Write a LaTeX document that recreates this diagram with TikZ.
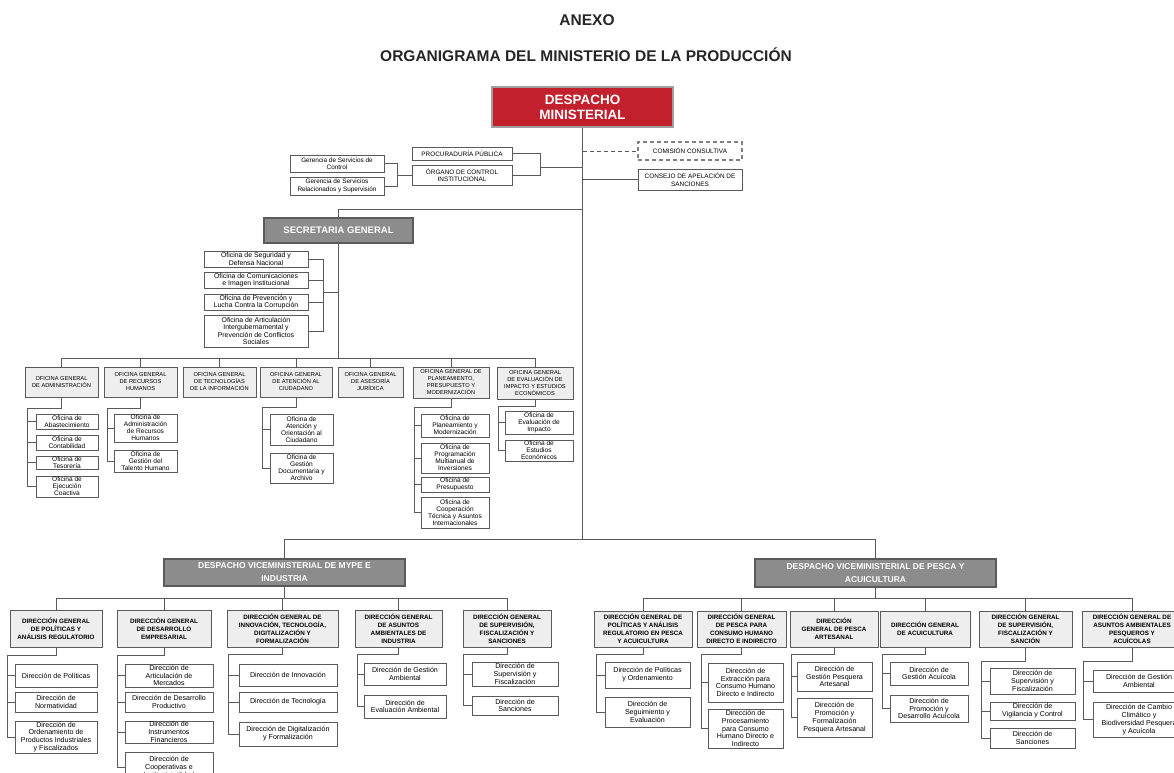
\documentclass[tikz,border=0pt]{standalone}
\usepackage{fontspec}
\setmainfont{Liberation Sans}
\definecolor{lnc}{HTML}{5A5A5A}
\definecolor{dmred}{HTML}{C1202C}
\definecolor{hdgray}{HTML}{8C8C8C}
\definecolor{oggray}{HTML}{EEEEEE}
\tikzset{
  base/.style={inner sep=0pt, align=center, draw=lnc, line width=1pt},
  titletext/.style={inner sep=0pt, font=\fontsize{15.5}{18}\selectfont\bfseries, text=black!85},
  dmbox/.style={base, fill=dmred, draw=gray!75, line width=1.6pt, text=white, font=\fontsize{13.5}{15}\selectfont\bfseries},
  sgbox/.style={base, fill=hdgray, draw=lnc, line width=1.3pt, text=white, font=\fontsize{9.5}{11}\selectfont\bfseries},
  vmbox/.style={base, fill=hdgray, draw=lnc, line width=1.3pt, text=white, font=\fontsize{8.5}{13}\selectfont\bfseries},
  topbox/.style={base, fill=white, font=\fontsize{6.4}{7.5}\selectfont},
  dashbox/.style={draw=gray, dash pattern=on 4pt off 3pt, line width=1.2pt},
  sobox/.style={base, fill=white, font=\fontsize{6.9}{7.5}\selectfont},
  ogbox/.style={base, fill=oggray, font=\fontsize{5.7}{7}\selectfont},
  ocbox/.style={base, fill=white, font=\fontsize{6.6}{7}\selectfont},
  dgbox/.style={base, fill=oggray, font=\fontsize{6.3}{8}\selectfont\bfseries},
  dcbox/.style={base, fill=white, font=\fontsize{7.1}{7.8}\selectfont},
  conn/.style={draw=lnc, line width=1pt},
}
\newcommand\obox[7]{%
  \pgfmathsetmacro\obw{#5-#3}%
  \pgfmathsetmacro\obh{#6-#4}%
  \node[#1, minimum width=\obw pt, minimum height=\obh pt] (#2) at ({(#3+#5)/2},{(#4+#6)/2}) {#7};}
\newcommand\obrk[4]{%
  \coordinate (bk) at (#2,#3);
  \draw[conn] (#1.south) |- (bk);
  \foreach \ch in {#4}{\draw[conn] (bk) |- (\ch.west);}}
\newcommand\obus[3]{%
  \coordinate (bb) at (0,#2);
  \draw[conn] (#1.south) -- (#1.south |- bb);
  \foreach \ch in {#3}{\draw[conn] (#1.south |- bb) -| (\ch.north);}}
\begin{document}
\begin{tikzpicture}[x=1pt,y=-1pt]
\useasboundingbox (0,0) rectangle (1174,772);
\fill[white] (0,0) rectangle (1174,772);

\node[titletext] (anexo) at (587,20) {ANEXO};
\node[titletext] (orgt) at (586,55) {ORGANIGRAMA DEL MINISTERIO DE LA PRODUCCIÓN};

% ---------- top level ----------
\obox{dmbox}{DM}{492}{87}{673}{127}{DESPACHO\\MINISTERIAL}
\obox{topbox}{PP}{412}{147}{512}{160}{PROCURADURÍA PÚBLICA}
\obox{topbox}{OCI}{412}{165}{512}{185}{ÓRGANO DE CONTROL\\INSTITUCIONAL}
\obox{topbox}{GSC}{290}{155}{384}{172}{Gerencia de Servicios de\\Control}
\obox{topbox}{GSR}{290}{177}{384}{195}{Gerencia de Servicios\\Relacionados y Supervisión}
\obox{topbox,dashbox}{CC}{638}{142}{742}{160}{COMISIÓN CONSULTIVA}
\obox{topbox}{CAS}{638}{169}{742}{190}{CONSEJO DE APELACIÓN DE\\SANCIONES}

\obox{sgbox}{SG}{264}{218}{413}{243}{SECRETARIA GENERAL}
\obox{sobox}{SO1}{204}{251}{308}{267}{Oficina de Seguridad y\\Defensa Nacional}
\obox{sobox}{SO2}{204}{272}{308}{288}{Oficina de Comunicaciones\\e Imagen Institucional}
\obox{sobox}{SO3}{204}{294}{308}{310}{Oficina de Prevención y\\Lucha Contra la Corrupción}
\obox{sobox}{SO4}{204}{315}{308}{347}{Oficina de Articulación\\Intergubernamental y\\Prevención de Conflictos\\Sociales}

\obox{vmbox}{VMM}{164}{559}{405}{586}{DESPACHO VICEMINISTERIAL DE MYPE E\\INDUSTRIA}
\obox{vmbox}{VMP}{755}{559}{996}{587}{DESPACHO VICEMINISTERIAL DE PESCA Y\\ACUICULTURA}

% connectors top
\obus{DM}{539}{VMM,VMP}
\coordinate (poj) at (540,167);
\draw[conn] (PP.east) -| (poj);
\draw[conn] (OCI.east) -| (poj);
\draw[conn] (poj) -- (DM.south |- poj);
\coordinate (gj) at (397,175);
\draw[conn] (GSC.east) -| (gj);
\draw[conn] (GSR.east) -| (gj);
\draw[conn] (gj) -- (gj -| OCI.west);
\draw[conn, dash pattern=on 4pt off 3pt] (DM.south |- CC.west) -- (CC.west);
\draw[conn] (DM.south |- CAS.west) -- (CAS.west);
\coordinate (sgj) at (0,209);
\draw[conn] (DM.south |- sgj) -| (SG.north);
\coordinate (soj) at (323,292);
\draw[conn] (soj) -- (SG.south |- soj);
\foreach \ch in {SO1,SO2,SO3,SO4}{\draw[conn] (\ch.east) -| (soj);}

% ---------- oficinas generales ----------
\obox{ogbox}{OGA}{25}{367}{98}{397}{OFICINA GENERAL\\DE ADMINISTRACIÓN}
\obox{ogbox}{OGR}{104}{367}{177}{397}{OFICINA GENERAL\\DE RECURSOS\\HUMANOS}
\obox{ogbox}{OGT}{183}{367}{256}{397}{OFICINA GENERAL\\DE TECNOLOGÍAS\\DE LA INFORMACIÓN}
\obox{ogbox}{OGC}{260}{367}{332}{397}{OFICINA GENERAL\\DE ATENCIÓN AL\\CIUDADANO}
\obox{ogbox}{OGJ}{338}{367}{403}{397}{OFICINA GENERAL\\DE ASESORÍA\\JURÍDICA}
\obox{ogbox}{OGP}{413}{367}{489}{398}{OFICINA GENERAL DE\\PLANEAMIENTO,\\PRESUPUESTO Y\\MODERNIZACIÓN}
\obox{ogbox}{OGE}{497}{367}{573}{399}{OFICINA GENERAL\\DE EVALUACIÓN DE\\IMPACTO Y ESTUDIOS\\ECONÓMICOS}
\obus{SG}{358}{OGA,OGR,OGT,OGC,OGJ,OGP,OGE}

\obox{ocbox}{A1}{36}{414}{98}{429}{Oficina de\\Abastecimiento}
\obox{ocbox}{A2}{36}{435}{98}{450}{Oficina de\\Contabilidad}
\obox{ocbox}{A3}{36}{456}{98}{469}{Oficina de\\Tesorería}
\obox{ocbox}{A4}{36}{476}{98}{497}{Oficina de\\Ejecución\\Coactiva}
\obrk{OGA}{27}{408}{A1,A2,A3,A4}

\obox{ocbox}{R1}{114}{414}{177}{442}{Oficina de\\Administración\\de Recursos\\Humanos}
\obox{ocbox}{R2}{114}{450}{177}{472}{Oficina de\\Gestión del\\Talento Humano}
\obrk{OGR}{107}{408}{R1,R2}

\obox{ocbox}{C1}{270}{414}{333}{445}{Oficina de\\Atención y\\Orientación al\\Ciudadano}
\obox{ocbox}{C2}{270}{453}{333}{483}{Oficina de\\Gestión\\Documentaria y\\Archivo}
\obrk{OGC}{262}{407}{C1,C2}

\obox{ocbox}{Q1}{421}{414}{489}{437}{Oficina de\\Planeamiento y\\Modernización}
\obox{ocbox}{Q2}{421}{443}{489}{473}{Oficina de\\Programación\\Multianual de\\Inversiones}
\obox{ocbox}{Q3}{421}{477}{489}{492}{Oficina de\\Presupuesto}
\obox{ocbox}{Q4}{421}{497}{489}{528}{Oficina de\\Cooperación\\Técnica y Asuntos\\Internacionales}
\obrk{OGP}{414}{407}{Q1,Q2,Q3,Q4}

\obox{ocbox}{E1}{505}{411}{573}{434}{Oficina de\\Evaluación de\\Impacto}
\obox{ocbox}{E2}{505}{440}{573}{461}{Oficina de\\Estudios\\Económicos}
\obrk{OGE}{498}{406}{E1,E2}

% MYPE
\obox{dgbox}{D1}{10}{610}{102}{647}{DIRECCIÓN GENERAL\\DE POLÍTICAS Y\\ANÁLISIS REGULATORIO}
\obox{dgbox}{D2}{117}{610}{211}{647}{DIRECCIÓN GENERAL\\DE DESARROLLO\\EMPRESARIAL}
\obox{dgbox}{D3}{227}{610}{338}{647}{DIRECCIÓN GENERAL DE\\INNOVACIÓN, TECNOLOGÍA,\\DIGITALIZACIÓN Y\\FORMALIZACIÓN}
\obox{dgbox}{D4}{355}{610}{442}{647}{DIRECCIÓN GENERAL\\DE ASUNTOS\\AMBIENTALES DE\\INDUSTRIA}
\obox{dgbox}{D5}{463}{610}{551}{647}{DIRECCIÓN GENERAL\\DE SUPERVISIÓN,\\FISCALIZACIÓN Y\\SANCIONES}
\obus{VMM}{598}{D1,D2,D3,D4,D5}

\obox{dcbox}{D1a}{15}{664}{97}{687}{Dirección de Políticas}
\obox{dcbox}{D1b}{15}{692}{97}{712}{Dirección de\\Normatividad}
\obox{dcbox}{D1c}{15}{721}{97}{753}{Dirección de\\Ordenamiento de\\Productos Industriales\\y Fiscalizados}
\obrk{D1}{7}{655}{D1a,D1b,D1c}

\obox{dcbox}{D2a}{125}{664}{213}{687}{Dirección de\\Articulación de\\Mercados}
\obox{dcbox}{D2b}{125}{692}{213}{712}{Dirección de Desarrollo\\Productivo}
\obox{dcbox}{D2c}{125}{721}{213}{743}{Dirección de\\Instrumentos\\Financieros}
\obox{dcbox}{D2d}{125}{752}{213}{782}{Dirección de\\Cooperativas e\\Institucionalidad}
\obrk{D2}{117}{655}{D2a,D2b,D2c,D2d}

\obox{dcbox}{D3a}{239}{664}{337}{686}{Dirección de Innovación}
\obox{dcbox}{D3b}{239}{692}{337}{712}{Dirección de Tecnología}
\obox{dcbox}{D3c}{239}{722}{337}{746}{Dirección de Digitalización\\y Formalización}
\obrk{D3}{228}{654}{D3a,D3b,D3c}

\obox{dcbox}{D4a}{364}{663}{446}{685}{Dirección de Gestión\\Ambiental}
\obox{dcbox}{D4b}{364}{695}{446}{718}{Dirección de\\Evaluación Ambiental}
\obrk{D4}{357}{654}{D4a,D4b}

\obox{dcbox}{D5a}{472}{662}{558}{686}{Dirección de\\Supervisión y\\Fiscalización}
\obox{dcbox}{D5b}{472}{696}{558}{715}{Dirección de\\Sanciones}
\obrk{D5}{463}{654}{D5a,D5b}

% PESCA
\obox{dgbox}{P1}{594}{611}{692}{647}{DIRECCIÓN GENERAL DE\\POLÍTICAS Y ANÁLISIS\\REGULATORIO EN PESCA\\Y ACUICULTURA}
\obox{dgbox}{P2}{697}{611}{786}{647}{DIRECCIÓN GENERAL\\DE PESCA PARA\\CONSUMO HUMANO\\DIRECTO E INDIRECTO}
\obox{dgbox}{P3}{790}{611}{878}{647}{DIRECCIÓN\\GENERAL DE PESCA\\ARTESANAL}
\obox{dgbox}{P4}{880}{611}{970}{647}{DIRECCIÓN GENERAL\\DE ACUICULTURA}
\obox{dgbox}{P5}{979}{611}{1072}{647}{DIRECCIÓN GENERAL\\DE SUPERVISIÓN,\\FISCALIZACIÓN Y\\SANCIÓN}
\obox{dgbox}{P6}{1082}{611}{1182}{647}{DIRECCIÓN GENERAL DE\\ASUNTOS AMBIENTALES\\PESQUEROS Y\\ACUÍCOLAS}
\obus{VMP}{598}{P1,P2,P3,P4,P5,P6}

\obox{dcbox}{P1a}{605}{662}{690}{688}{Dirección de Políticas\\y Ordenamiento}
\obox{dcbox}{P1b}{605}{697}{690}{727}{Dirección de\\Seguimiento y\\Evaluación}
\obrk{P1}{596}{654}{P1a,P1b}

\obox{dcbox}{P2a}{708}{663}{783}{702}{Dirección de\\Extracción para\\Consumo Humano\\Directo e Indirecto}
\obox{dcbox}{P2b}{708}{709}{783}{748}{Dirección de\\Procesamiento\\para Consumo\\Humano Directo e\\Indirecto}
\obrk{P2}{701}{654}{P2a,P2b}

\obox{dcbox}{P3a}{797}{662}{872}{691}{Dirección de\\Gestión Pesquera\\Artesanal}
\obox{dcbox}{P3b}{797}{698}{872}{737}{Dirección de\\Promoción y\\Formalización\\Pesquera Artesanal}
\obrk{P3}{791}{654}{P3a,P3b}

\obox{dcbox}{P4a}{890}{662}{968}{685}{Dirección de\\Gestión Acuícola}
\obox{dcbox}{P4b}{890}{695}{968}{722}{Dirección de\\Promoción y\\Desarrollo Acuícola}
\obrk{P4}{882}{654}{P4a,P4b}

\obox{dcbox}{P5a}{990}{668}{1075}{694}{Dirección de\\Supervisión y\\Fiscalización}
\obox{dcbox}{P5b}{990}{702}{1075}{720}{Dirección de\\Vigilancia y Control}
\obox{dcbox}{P5c}{990}{728}{1075}{748}{Dirección de\\Sanciones}
\obrk{P5}{981}{661}{P5a,P5b,P5c}

\obox{dcbox}{P6a}{1093}{670}{1185}{692}{Dirección de Gestión\\Ambiental}
\obox{dcbox}{P6b}{1093}{702}{1185}{737}{Dirección de Cambio\\Climático y\\Biodiversidad Pesquera\\y Acuícola}
\obrk{P6}{1083}{661}{P6a,P6b}
\end{tikzpicture}
\end{document}
